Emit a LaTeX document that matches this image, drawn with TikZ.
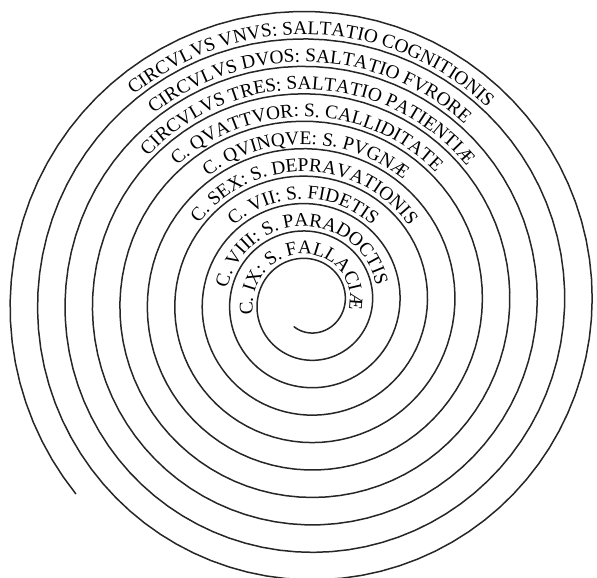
\documentclass[tikz,border=0pt]{standalone}
\usepackage{fontspec}
\setmainfont{Liberation Serif}
\usepackage{tikz}
\usetikzlibrary{decorations.text}

\newcommand{\ringfont}{\fontsize{19.3}{21}\selectfont}
\tikzstyle{spiralline} = [line width=1.5pt, draw=black!85, line cap=round]
\tikzstyle{ringtext} = [decorate, decoration={text along path, text align=center}]

% text of circle #1 (0 = innermost), sitting on the turn below it
\newcommand{\ring}[2]{%
  \path [ringtext, decoration={text={|\ringfont|#2}}]
    plot [domain=0:1, samples=120, variable=\u]
    ({(spr(#1+0.6-0.72*\u)+4.5)*cos(360*(#1+0.6-0.72*\u))},
     {(spr(#1+0.6-0.72*\u)+4.5)*sin(360*(#1+0.6-0.72*\u))});
}

\begin{document}
\begin{tikzpicture}[x=1pt, y=1pt, declare function={spr(\t)=37.1+27.45*\t;}]
\useasboundingbox (-308,-275.5) rectangle (289,302.5);

% the spiral, from the inner end outwards
\draw [spiralline] plot [domain=-0.333:9.61, samples=900, variable=\t]
  ({spr(\t)*cos(360*\t)}, {spr(\t)*sin(360*\t)});

% the nine circles, innermost first
\ring{0}{C. IX: S. FALLACIÆ}
\ring{1}{C. VIII: S. PARADOCTIS}
\ring{2}{C. VII: S. FIDETIS}
\ring{3}{C. SEX: S. DEPRAVATIONIS}
\ring{4}{C. QVINQVE: S. PVGNÆ}
\ring{5}{C. QVATTVOR: S. CALLIDITATE}
\ring{6}{CIRCVLVS TRES: SALTATIO PATIENTIÆ}
\ring{7}{CIRCVLVS DVOS: SALTATIO FVRORE}
\ring{8}{CIRCVLVS VNVS: SALTATIO COGNITIONIS}
\end{tikzpicture}
\end{document}
